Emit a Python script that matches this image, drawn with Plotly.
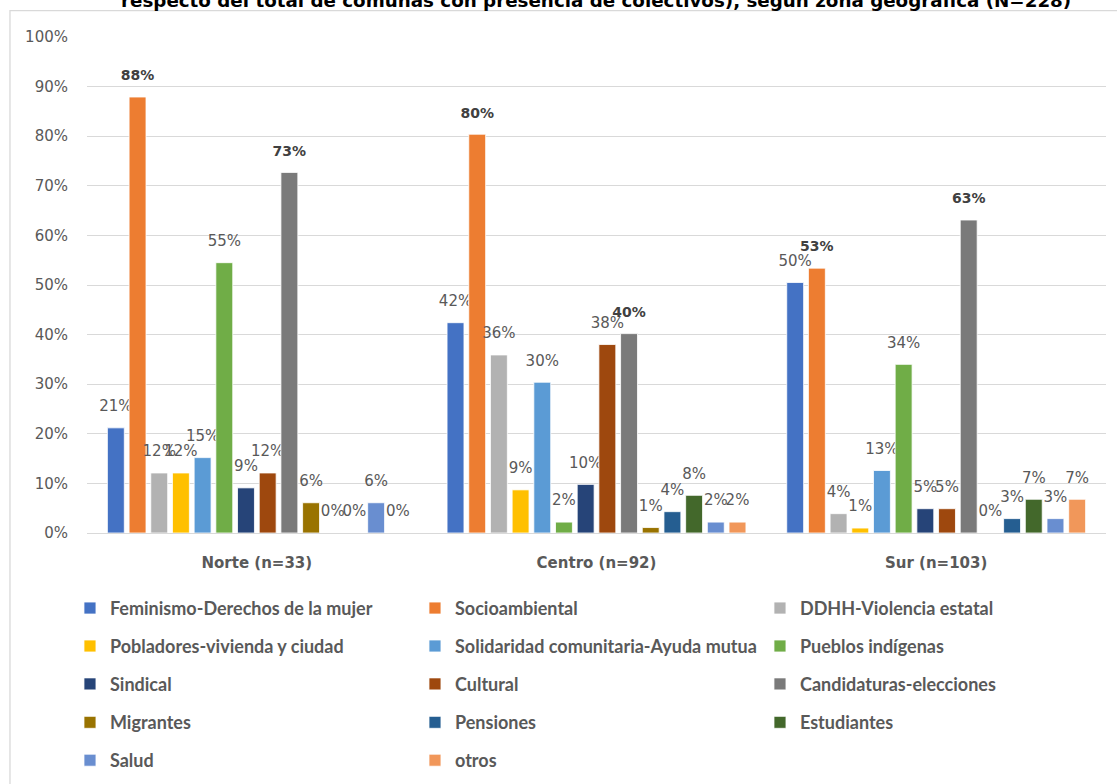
import plotly.graph_objects as go

zonas = ["Norte (n=33)", "Centro (n=92)", "Sur (n=103)"]
series = [
    "Feminismo-Derechos de la mujer", "Socioambiental", "DDHH-Violencia estatal",
    "Pobladores-vivienda y ciudad", "Solidaridad comunitaria-Ayuda mutua", "Pueblos indígenas",
    "Sindical", "Cultural", "Candidaturas-elecciones",
    "Migrantes", "Pensiones", "Estudiantes",
    "Salud", "otros",
]
feminismo = [0.212, 0.424, 0.505]
socioambiental = [0.879, 0.804, 0.534]
ddhh = [0.121, 0.359, 0.039]
pobladores = [0.121, 0.087, 0.010]
solidaridad = [0.152, 0.304, 0.126]
pueblos = [0.545, 0.022, 0.340]
sindical = [0.091, 0.098, 0.049]
cultural = [0.121, 0.380, 0.049]
candidaturas = [0.727, 0.402, 0.631]
migrantes = [0.061, 0.011, 0.0]
pensiones = [0.0, 0.043, 0.029]
estudiantes = [0.0, 0.076, 0.068]
salud = [0.061, 0.022, 0.029]
otros = [0.0, 0.022, 0.068]
values = [feminismo, socioambiental, ddhh, pobladores, solidaridad, pueblos,
          sindical, cultural, candidaturas, migrantes, pensiones, estudiantes,
          salud, otros]
colors = ["#4472C4", "#ED7D31", "#B2B2B2", "#FFC000", "#5B9BD5", "#70AD47",
          "#264478", "#9E480E", "#7A7A7A", "#997300", "#255E91", "#43682B",
          "#698ED0", "#F1975A"]
bold_series = {"Socioambiental", "Candidaturas-elecciones"}

legend_rows = [-0.1519, -0.2284, -0.3048, -0.3823, -0.4587]

fig = go.Figure()
for i, (name, vals, col) in enumerate(zip(series, values, colors)):
    is_bold = name in bold_series
    fs = 14 if is_bold else 15
    txt = [f"<span style='font-size:{fs}px'>{round(v*100):.0f}%</span><br>\u00a0" for v in vals]
    fig.add_trace(go.Bar(
        x=zonas, y=vals, name=name,
        marker=dict(color=col, line=dict(color="white", width=0.8)),
        text=txt, textposition="outside", constraintext="none", cliponaxis=False,
        textfont=dict(family="DejaVu Sans", size=9,
                      color="#404040" if is_bold else "#595959",
                      weight="bold" if is_bold else "normal"),
        legend="legend" if i < 3 else f"legend{i // 3 + 1}",
        hoverinfo="skip",
    ))

legend_font = dict(family="Lato, Liberation Sans, sans-serif",
                   size=18, color="#595959", weight="bold")
layout_legends = {}
for r, yv in enumerate(legend_rows):
    key = "legend" if r == 0 else f"legend{r + 1}"
    layout_legends[key] = dict(
        orientation="h", x=-0.0167, xanchor="left", y=yv, yanchor="middle",
        entrywidth=300, entrywidthmode="pixels", font=legend_font,
        bgcolor="rgba(0,0,0,0)", itemclick=False, itemdoubleclick=False,
        traceorder="normal",
    )

fig.update_layout(
    width=1117, height=784,
    margin=dict(l=87, r=11, t=37, b=250.5, autoexpand=False),
    paper_bgcolor="white", plot_bgcolor="white",
    barmode="group", bargap=0.106, bargroupgap=0.22,
    xaxis=dict(showline=False, ticks="", showgrid=False, ticklabelstandoff=19,
               tickfont=dict(family="DejaVu Sans", size=15, color="#595959", weight="bold")),
    yaxis=dict(range=[0, 1], dtick=0.1, tickformat=".0%", showgrid=True,
               gridcolor="#D9D9D9", gridwidth=1.3, zeroline=True, zerolinecolor="#D9D9D9",
               zerolinewidth=1.3, showline=False, ticks="", ticklabelstandoff=18,
               tickfont=dict(family="DejaVu Sans", size=15, color="#595959")),
    shapes=[dict(type="rect", xref="paper", yref="paper", x0=-0.0756, x1=1.2, y0=-1.0, y1=1.0533,
                 line=dict(color="#D9D9D9", width=1.3), fillcolor="rgba(0,0,0,0)", layer="below")],
    annotations=[dict(
        text="<b>respecto del total de comunas con presencia de colectivos), según zona geográfica (N=228)</b>",
        xref="paper", yref="paper", x=0.4995, y=1.0734, xanchor="center", yanchor="middle",
        showarrow=False, font=dict(family="DejaVu Sans", size=18.3, color="black"))],
    **layout_legends,
)

fig.write_html("out.html", config={"displayModeBar": False},
               post_script="document.body.style.margin='0';")
